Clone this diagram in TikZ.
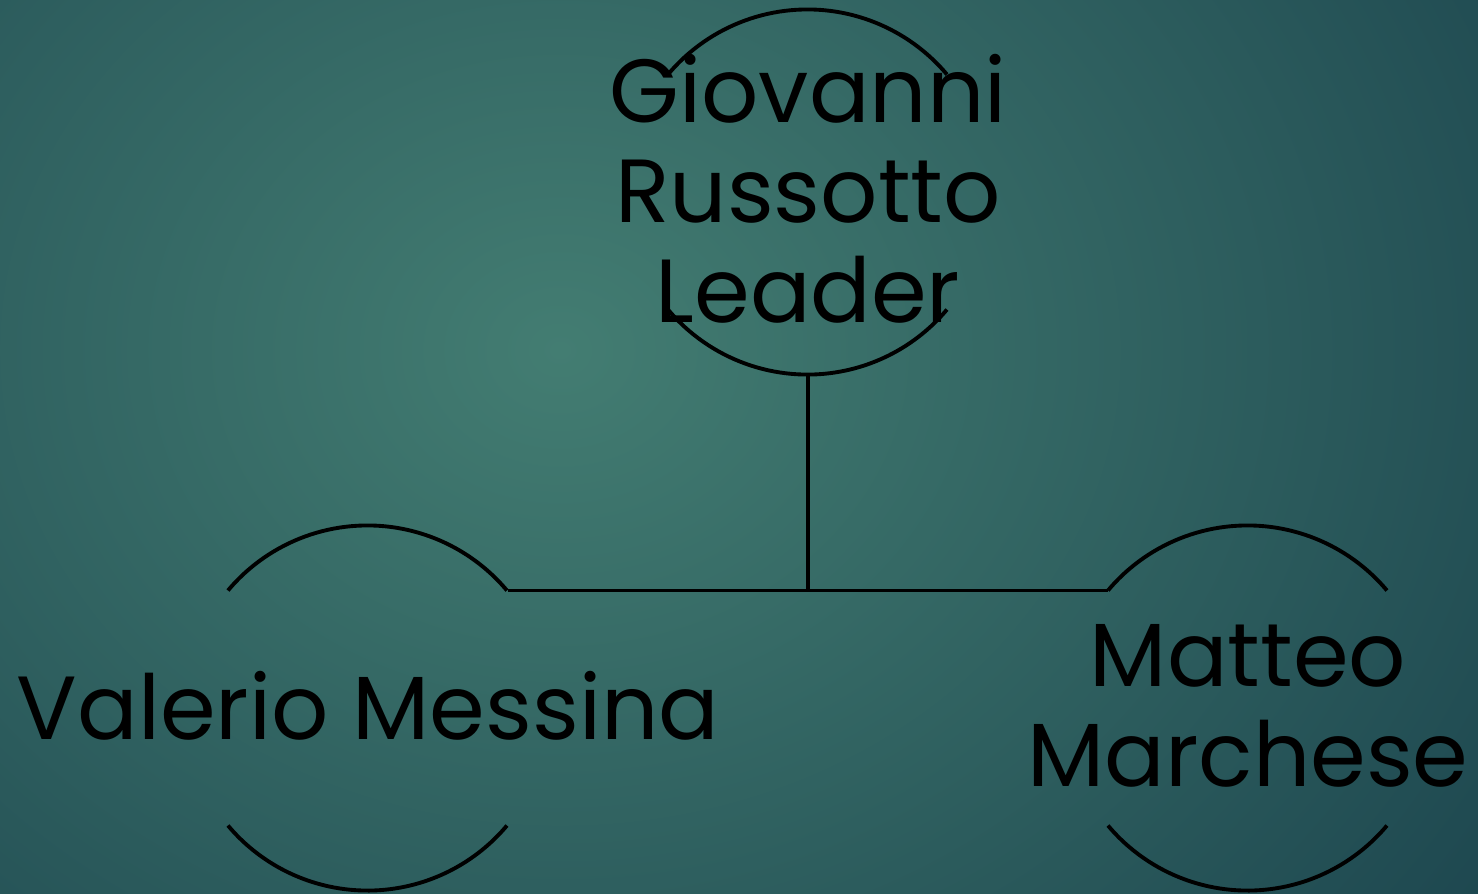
\documentclass[tikz,border=0pt]{standalone}
\usepackage{fontspec}
\setmainfont{Poppins}
\usetikzlibrary{positioning}
\definecolor{tealmid}{HTML}{437D72}
\definecolor{tealout}{HTML}{1E4850}
\tikzset{
  member/.style={circle, minimum size=3.64cm, inner sep=0pt, draw=none},
  nametext/.style={align=center, text=black, font=\fontsize{25.5}{28.45}\selectfont},
  link/.style={line width=1.1pt, black}
}
\begin{document}
\begin{tikzpicture}[x=0.01cm, y=-0.01cm]
    % background
    \clip (0,0) rectangle (1478,893);
    \useasboundingbox (0,0) rectangle (1478,893);
    \shade [inner color=tealmid, outer color=tealout] (-560,-600) rectangle (1680,1300);

    % circles
    \node [member] (leader) at (808,192) {};
    \node [member] (valerio) at (368,708) {};
    \node [member] (matteo) at (1248,708) {};

    \draw [link] (leader.140) arc [start angle=140, end angle=40, radius=1.82cm];
    \draw [link] (leader.-140) arc [start angle=-140, end angle=-40, radius=1.82cm];
    \draw [link] (valerio.140) arc [start angle=140, end angle=40, radius=1.82cm];
    \draw [link] (valerio.-140) arc [start angle=-140, end angle=-40, radius=1.82cm];
    \draw [link] (matteo.140) arc [start angle=140, end angle=40, radius=1.82cm];
    \draw [link] (matteo.-140) arc [start angle=-140, end angle=-40, radius=1.82cm];

    % connectors
    \draw [link] (valerio.40) -- (matteo.140);
    \draw [link] (leader.south) -- (leader.south |- valerio.40);

    % names
    \node [nametext] (leadertext) at (808,189) {Giovanni\\Russotto\\Leader};
    \node [nametext] (valeriotext) at (368,706) {Valerio Messina};
    \node [nametext] (matteotext) at (1248,706) {Matteo\\Marchese};
\end{tikzpicture}
\end{document}
